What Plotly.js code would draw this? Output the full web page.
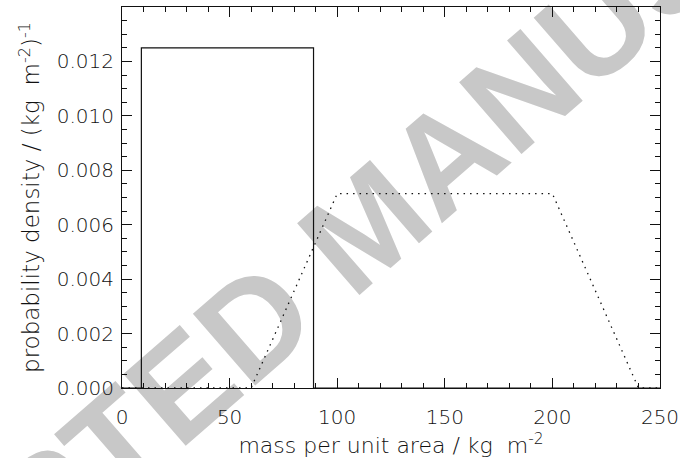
<!DOCTYPE html>
<html>
<head>
<meta charset="utf-8">
<script src="https://cdn.plot.ly/plotly-3.0.1.min.js"></script>
<style>html,body{margin:0;padding:0;background:#fff;}#chart{width:680px;height:458px;}</style>
</head>
<body>
<div id="chart"></div>
<script>
// Solid: uniform distribution (mass per unit area, kg m^-2)
const uniformX = [0, 9, 9, 89, 89, 250];
const uniformY = [0, 0, 0.0125, 0.0125, 0, 0];
// Dotted: trapezoidal distribution
const trapX = [0, 60, 100, 200, 240, 250];
const trapY = [0, 0, 0.00714, 0.00714, 0, 0];

const xTickVals = [0, 50, 100, 150, 200, 250];
const yTickVals = [0, 0.002, 0.004, 0.006, 0.008, 0.010, 0.012, 0.014];
const yTickText = ['0.000', '0.002', '0.004', '0.006', '0.008', '0.010', '0.012', '0.014'];

const xTitle = 'mass per unit area / kg\u00a0\u00a0m<sup>-2</sup>';
const yTitle = 'probability density\u00a0/\u00a0(kg\u00a0\u00a0m<sup>-2</sup>)<sup>-1</sup>';
const watermark = 'ACCEPTED MANUSCRIPT';

const fontFamily = '"DejaVu Sans", "Liberation Sans", sans-serif';
const tickFont = {family: fontFamily, size: 20, color: '#111', weight: 300};
const xTitleFont = {family: fontFamily, size: 22, color: '#111', weight: 300};
const yTitleFont = {family: fontFamily, size: 23, color: '#111', weight: 300};

const traces = [
  {x: uniformX, y: uniformY, type: 'scatter', mode: 'lines',
   line: {color: '#111', width: 1.2}, hoverinfo: 'skip'},
  {x: trapX, y: trapY, type: 'scatter', mode: 'lines',
   line: {color: '#111', width: 1.3, dash: '1.5px,5px'}, hoverinfo: 'skip'}
];

const wmX = 0.44, wmY = 0.455;

const layout = {
  width: 680, height: 458,
  margin: {l: 122, r: 20, t: 7, b: 70},
  paper_bgcolor: '#fff',
  plot_bgcolor: 'rgba(0,0,0,0)',
  showlegend: false,
  xaxis: {
    range: [0, 250], tickvals: xTickVals, ticktext: xTickVals.map(String),
    ticks: 'inside', ticklen: 10, tickwidth: 1, tickcolor: '#111',
    showline: true, linecolor: '#111', linewidth: 1, mirror: 'ticks',
    showgrid: false, zeroline: false,
    minor: {dtick: 10, ticks: 'inside', ticklen: 5, tickcolor: '#111', tickwidth: 1, showgrid: false},
    tickfont: tickFont, ticklabelstandoff: 11,
    title: {text: xTitle, font: xTitleFont, standoff: 9}
  },
  yaxis: {
    range: [0, 0.014], tickvals: yTickVals, ticktext: yTickText,
    ticks: 'inside', ticklen: 10, tickwidth: 1, tickcolor: '#111',
    showline: true, linecolor: '#111', linewidth: 1, mirror: 'ticks',
    showgrid: false, zeroline: false,
    minor: {dtick: 0.0005, ticks: 'inside', ticklen: 5, tickcolor: '#111', tickwidth: 1, showgrid: false},
    tickfont: tickFont, ticklabelstandoff: 3,
    title: {text: yTitle, font: yTitleFont, standoff: 10}
  },
  shapes: [{
    type: 'rect', xref: 'paper', yref: 'paper',
    x0: wmX, x1: wmX, y0: wmY, y1: wmY,
    line: {width: 0}, fillcolor: 'rgba(0,0,0,0)', layer: 'below',
    label: {text: watermark, textangle: -41, textposition: 'middle center',
            font: {family: '"Liberation Sans", Arial, sans-serif', size: 138, color: '#c8c8c8', weight: 'bold'}}
  }]
};

Plotly.newPlot('chart', traces, layout, {staticPlot: true, displayModeBar: false});
</script>
</body>
</html>
